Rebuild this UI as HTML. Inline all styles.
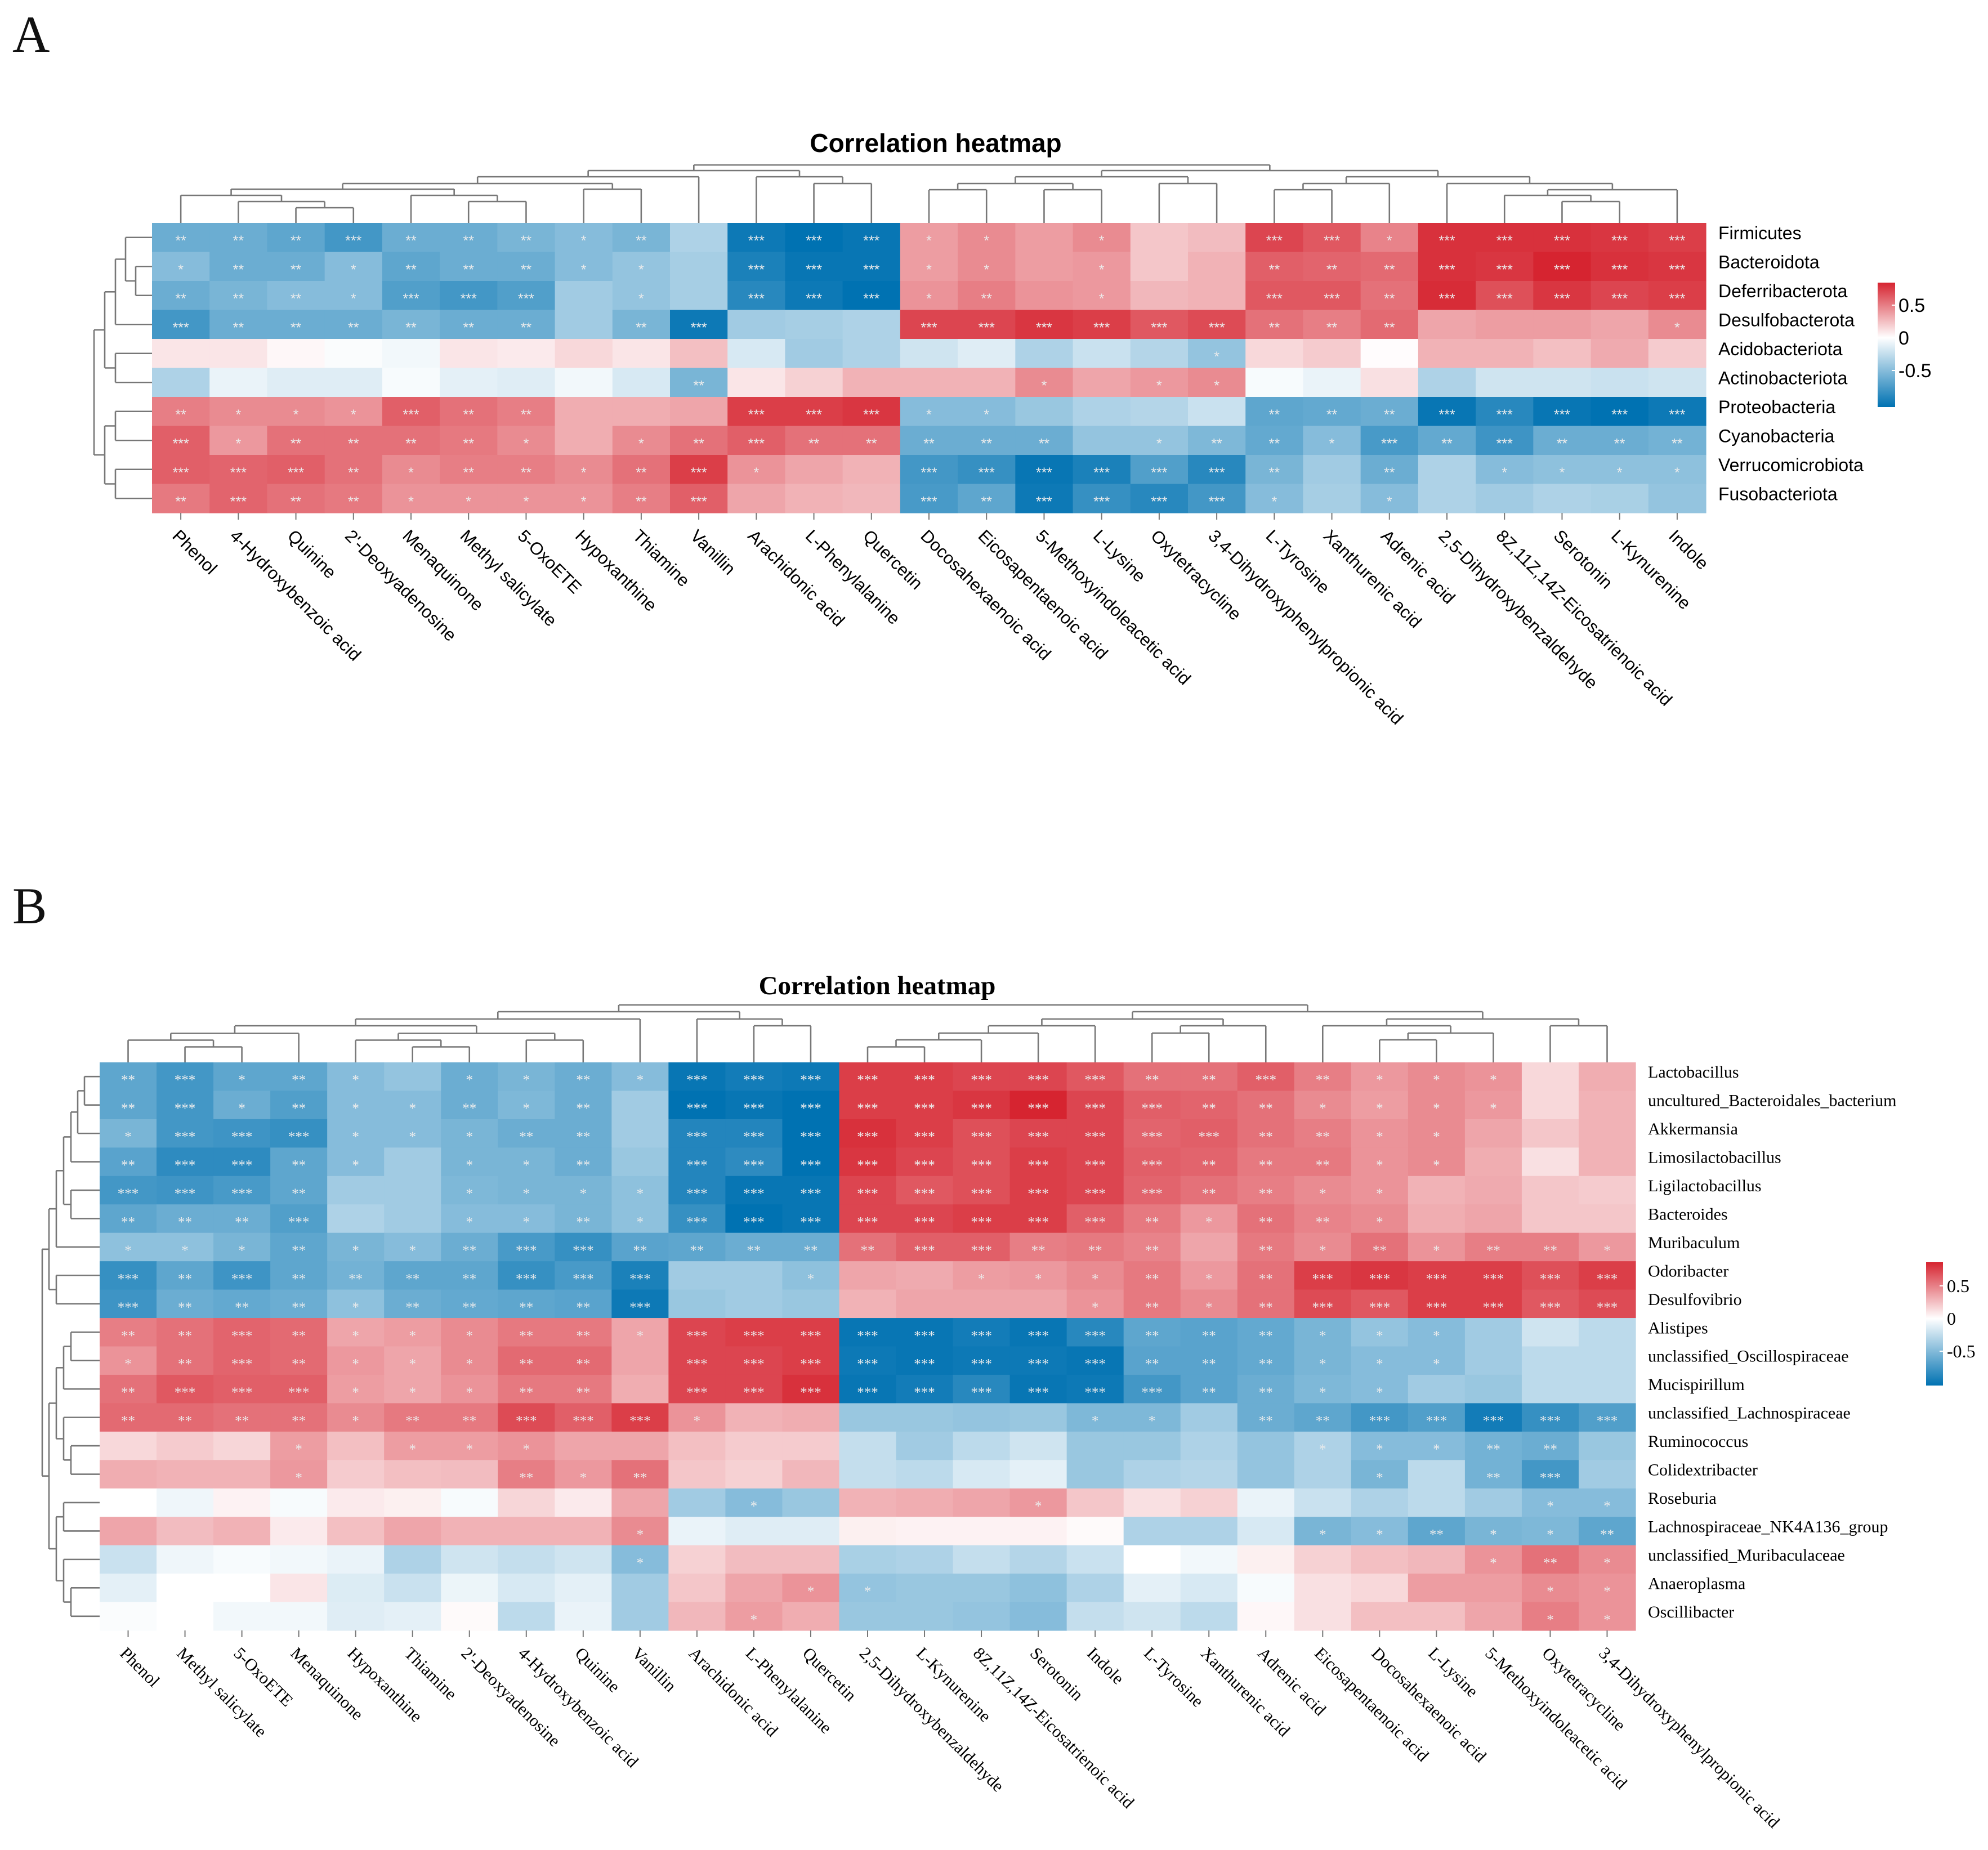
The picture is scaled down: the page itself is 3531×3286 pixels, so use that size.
<!DOCTYPE html>
<html><head><meta charset="utf-8"><style>html,body{margin:0;padding:0;background:#fff}svg{display:block}</style></head>
<body>
<svg id="chart" xmlns="http://www.w3.org/2000/svg" width="3531" height="3286" viewBox="0 0 3531 3286">
<defs>
<linearGradient id="gA" x1="0" y1="0" x2="0" y2="1"><stop offset="0" stop-color="rgb(214,36,48)"/><stop offset="0.443" stop-color="#fff"/><stop offset="1" stop-color="rgb(0,114,178)"/></linearGradient>
<linearGradient id="gB" x1="0" y1="0" x2="0" y2="1"><stop offset="0" stop-color="rgb(214,36,48)"/><stop offset="0.457" stop-color="#fff"/><stop offset="1" stop-color="rgb(0,114,178)"/></linearGradient>
</defs>
<rect width="3531" height="3286" fill="#fff"/>
<text x="22" y="92" font-family="Liberation Serif, serif" font-size="92" fill="#111">A</text>
<text x="22" y="1640" font-family="Liberation Serif, serif" font-size="92" fill="#111">B</text>
<text x="1662" y="270" text-anchor="middle" font-family="Liberation Sans, sans-serif" font-weight="bold" font-size="46" fill="#000">Correlation heatmap</text>
<text x="1558" y="1766" text-anchor="middle" font-family="Liberation Serif, serif" font-weight="bold" font-size="47" fill="#000">Correlation heatmap</text>
<g>
<rect x="3335" y="502" width="31" height="221" fill="url(#gA)"/>
<line x1="3360" x2="3366" y1="542" y2="542" stroke="#fff" stroke-width="2"/>
<line x1="3360" x2="3366" y1="600" y2="600" stroke="#fff" stroke-width="2"/>
<line x1="3360" x2="3366" y1="658" y2="658" stroke="#fff" stroke-width="2"/>
<text x="3372" y="554" font-family="Liberation Sans, sans-serif" font-size="34">0.5</text>
<text x="3372" y="612" font-family="Liberation Sans, sans-serif" font-size="34">0</text>
<text x="3372" y="670" font-family="Liberation Sans, sans-serif" font-size="34">-0.5</text>
</g>
<g>
<rect x="3421" y="2242" width="30" height="219" fill="url(#gB)"/>
<line x1="3445" x2="3451" y1="2284" y2="2284" stroke="#fff" stroke-width="2"/>
<line x1="3445" x2="3451" y1="2342" y2="2342" stroke="#fff" stroke-width="2"/>
<line x1="3445" x2="3451" y1="2400" y2="2400" stroke="#fff" stroke-width="2"/>
<text x="3458" y="2295" font-family="Liberation Serif, serif" font-size="32">0.5</text>
<text x="3458" y="2353" font-family="Liberation Serif, serif" font-size="32">0</text>
<text x="3458" y="2411" font-family="Liberation Serif, serif" font-size="32">-0.5</text>
</g>
</svg>
<script>
const A_cols = ["Phenol","4-Hydroxybenzoic acid","Quinine","2'-Deoxyadenosine","Menaquinone","Methyl salicylate","5-OxoETE","Hypoxanthine","Thiamine","Vanillin","Arachidonic acid","L-Phenylalanine","Quercetin","Docosahexaenoic acid","Eicosapentaenoic acid","5-Methoxyindoleacetic acid","L-Lysine","Oxytetracycline","3,4-Dihydroxyphenylpropionic acid","L-Tyrosine","Xanthurenic acid","Adrenic acid","2,5-Dihydroxybenzaldehyde","8Z,11Z,14Z-Eicosatrienoic acid","Serotonin","L-Kynurenine","Indole"];
const A_rows = ["Firmicutes","Bacteroidota","Deferribacterota","Desulfobacterota","Acidobacteriota","Actinobacteriota","Proteobacteria","Cyanobacteria","Verrucomicrobiota","Fusobacteriota"];
const A_vals = [
[-0.55,-0.55,-0.6,-0.7,-0.55,-0.55,-0.5,-0.45,-0.5,-0.3,-0.9,-0.95,-0.92,0.38,0.45,0.38,0.45,0.22,0.26,0.72,0.65,0.48,0.8,0.8,0.8,0.78,0.75],
[-0.45,-0.55,-0.55,-0.45,-0.6,-0.55,-0.55,-0.45,-0.4,-0.33,-0.85,-0.92,-0.92,0.38,0.45,0.38,0.4,0.22,0.3,0.62,0.6,0.58,0.8,0.78,0.85,0.8,0.78],
[-0.55,-0.5,-0.45,-0.45,-0.65,-0.7,-0.65,-0.35,-0.4,-0.33,-0.8,-0.9,-0.95,0.42,0.5,0.42,0.4,0.28,0.3,0.65,0.65,0.55,0.82,0.68,0.78,0.72,0.75],
[-0.7,-0.55,-0.55,-0.55,-0.5,-0.55,-0.55,-0.35,-0.5,-0.9,-0.35,-0.33,-0.3,0.72,0.72,0.78,0.75,0.65,0.7,0.55,0.5,0.58,0.35,0.38,0.38,0.35,0.45],
[0.1,0.1,0.03,-0.02,-0.05,0.1,0.08,0.15,0.1,0.25,-0.15,-0.35,-0.3,-0.18,-0.12,-0.3,-0.2,-0.28,-0.4,0.15,0.2,0.01,0.3,0.3,0.25,0.33,0.2],
[-0.3,-0.08,-0.12,-0.12,-0.03,-0.1,-0.12,-0.05,-0.15,-0.5,0.1,0.18,0.3,0.3,0.3,0.45,0.35,0.4,0.45,-0.03,-0.08,0.12,-0.3,-0.18,-0.18,-0.2,-0.18],
[0.5,0.45,0.45,0.42,0.62,0.55,0.5,0.32,0.32,0.35,0.75,0.75,0.78,-0.45,-0.45,-0.38,-0.3,-0.28,-0.2,-0.6,-0.58,-0.55,-0.92,-0.8,-0.92,-0.95,-0.9],
[0.62,0.4,0.55,0.55,0.55,0.52,0.45,0.32,0.45,0.55,0.62,0.55,0.55,-0.55,-0.55,-0.55,-0.4,-0.4,-0.48,-0.58,-0.45,-0.68,-0.58,-0.72,-0.55,-0.55,-0.52],
[0.62,0.6,0.62,0.55,0.45,0.5,0.5,0.45,0.55,0.75,0.42,0.35,0.3,-0.7,-0.75,-0.92,-0.85,-0.65,-0.8,-0.5,-0.35,-0.55,-0.3,-0.45,-0.42,-0.42,-0.42],
[0.52,0.6,0.55,0.52,0.42,0.42,0.42,0.42,0.5,0.62,0.35,0.3,0.28,-0.68,-0.6,-0.9,-0.75,-0.8,-0.7,-0.45,-0.33,-0.45,-0.3,-0.35,-0.3,-0.32,-0.4]];
const A_stars = ["222322212033311010033133333","122122211033311010022233333","222133301033312010033233333","322222202300033333322200001","000000000000000000100000000","000000000200000101100000000","211132200033311000022233333","312222101232222201221323222","333212212310033333320201111","232211112300032333310100000"];

const B_cols = ["Phenol","Methyl salicylate","5-OxoETE","Menaquinone","Hypoxanthine","Thiamine","2'-Deoxyadenosine","4-Hydroxybenzoic acid","Quinine","Vanillin","Arachidonic acid","L-Phenylalanine","Quercetin","2,5-Dihydroxybenzaldehyde","L-Kynurenine","8Z,11Z,14Z-Eicosatrienoic acid","Serotonin","Indole","L-Tyrosine","Xanthurenic acid","Adrenic acid","Eicosapentaenoic acid","Docosahexaenoic acid","L-Lysine","5-Methoxyindoleacetic acid","Oxytetracycline","3,4-Dihydroxyphenylpropionic acid"];
const B_rows = ["Lactobacillus","uncultured_Bacteroidales_bacterium","Akkermansia","Limosilactobacillus","Ligilactobacillus","Bacteroides","Muribaculum","Odoribacter","Desulfovibrio","Alistipes","unclassified_Oscillospiraceae","Mucispirillum","unclassified_Lachnospiraceae","Ruminococcus","Colidextribacter","Roseburia","Lachnospiraceae_NK4A136_group","unclassified_Muribaculaceae","Anaeroplasma","Oscillibacter"];
const B_vals = [
[-0.6,-0.7,-0.6,-0.6,-0.45,-0.4,-0.55,-0.5,-0.55,-0.45,-0.92,-0.88,-0.9,0.75,0.75,0.72,0.72,0.65,0.55,0.55,0.62,0.5,0.4,0.45,0.42,0.15,0.32],
[-0.6,-0.7,-0.55,-0.65,-0.45,-0.45,-0.55,-0.48,-0.55,-0.35,-0.95,-0.92,-0.95,0.75,0.75,0.78,0.85,0.72,0.62,0.6,0.55,0.45,0.38,0.45,0.4,0.15,0.3],
[-0.5,-0.7,-0.72,-0.75,-0.45,-0.45,-0.5,-0.55,-0.55,-0.35,-0.82,-0.82,-0.95,0.8,0.75,0.68,0.72,0.72,0.6,0.62,0.55,0.5,0.42,0.45,0.35,0.22,0.3],
[-0.62,-0.78,-0.78,-0.6,-0.45,-0.35,-0.5,-0.5,-0.55,-0.38,-0.82,-0.78,-0.95,0.78,0.72,0.68,0.75,0.72,0.62,0.6,0.52,0.52,0.42,0.45,0.32,0.12,0.3],
[-0.7,-0.72,-0.68,-0.6,-0.35,-0.35,-0.48,-0.5,-0.5,-0.42,-0.82,-0.92,-0.92,0.72,0.65,0.68,0.75,0.72,0.6,0.55,0.5,0.45,0.42,0.3,0.33,0.22,0.2],
[-0.6,-0.55,-0.55,-0.65,-0.3,-0.35,-0.45,-0.45,-0.5,-0.42,-0.75,-0.95,-0.92,0.72,0.72,0.75,0.75,0.62,0.52,0.4,0.55,0.48,0.45,0.32,0.35,0.22,0.22],
[-0.42,-0.42,-0.5,-0.6,-0.5,-0.45,-0.55,-0.68,-0.75,-0.62,-0.6,-0.55,-0.55,0.55,0.62,0.62,0.5,0.52,0.48,0.35,0.52,0.45,0.55,0.42,0.5,0.5,0.4],
[-0.75,-0.6,-0.72,-0.6,-0.52,-0.6,-0.6,-0.75,-0.68,-0.85,-0.35,-0.35,-0.42,0.35,0.33,0.38,0.4,0.45,0.52,0.4,0.55,0.75,0.78,0.75,0.75,0.68,0.75],
[-0.72,-0.55,-0.58,-0.55,-0.42,-0.55,-0.58,-0.6,-0.62,-0.9,-0.38,-0.35,-0.38,0.3,0.35,0.35,0.35,0.42,0.52,0.45,0.55,0.7,0.65,0.75,0.75,0.65,0.7],
[0.5,0.55,0.6,0.58,0.35,0.38,0.45,0.52,0.52,0.35,0.72,0.75,0.75,-0.92,-0.92,-0.88,-0.92,-0.8,-0.6,-0.62,-0.58,-0.5,-0.4,-0.45,-0.35,-0.18,-0.25],
[0.42,0.55,0.6,0.58,0.4,0.35,0.45,0.58,0.58,0.35,0.72,0.72,0.75,-0.9,-0.92,-0.9,-0.9,-0.92,-0.62,-0.62,-0.58,-0.5,-0.45,-0.45,-0.35,-0.25,-0.25],
[0.55,0.65,0.62,0.62,0.38,0.35,0.42,0.52,0.52,0.32,0.72,0.72,0.8,-0.92,-0.88,-0.8,-0.92,-0.9,-0.7,-0.62,-0.55,-0.48,-0.45,-0.35,-0.38,-0.25,-0.25],
[0.58,0.58,0.55,0.55,0.45,0.52,0.52,0.7,0.62,0.75,0.42,0.3,0.32,-0.38,-0.38,-0.4,-0.38,-0.48,-0.48,-0.35,-0.55,-0.6,-0.7,-0.65,-0.88,-0.75,-0.65],
[0.15,0.2,0.16,0.38,0.25,0.38,0.38,0.42,0.35,0.35,0.25,0.2,0.2,-0.22,-0.35,-0.25,-0.18,-0.38,-0.38,-0.3,-0.4,-0.3,-0.45,-0.45,-0.52,-0.55,-0.38],
[0.32,0.3,0.3,0.4,0.2,0.25,0.26,0.5,0.4,0.55,0.22,0.18,0.28,-0.22,-0.25,-0.15,-0.1,-0.38,-0.3,-0.28,-0.4,-0.3,-0.5,-0.25,-0.52,-0.7,-0.35],
[0,-0.06,0.05,-0.03,0.08,0.06,-0.03,0.16,0.08,0.35,-0.35,-0.45,-0.38,0.3,0.32,0.35,0.4,0.22,0.12,0.18,-0.08,-0.2,-0.3,-0.25,-0.35,-0.45,-0.45],
[0.35,0.26,0.3,0.08,0.25,0.35,0.3,0.3,0.3,0.45,-0.08,-0.12,-0.12,0.06,0.05,0.05,0.05,0.02,-0.3,-0.3,-0.15,-0.5,-0.45,-0.6,-0.5,-0.48,-0.6],
[-0.2,-0.06,-0.03,-0.05,-0.08,-0.3,-0.18,-0.22,-0.18,-0.45,0.18,0.26,0.26,-0.32,-0.3,-0.22,-0.28,-0.2,0,-0.05,0.06,0.18,0.25,0.28,0.42,0.55,0.45],
[-0.1,0,0,0.1,-0.13,-0.2,-0.07,-0.15,-0.1,-0.35,0.22,0.35,0.42,-0.4,-0.38,-0.38,-0.42,-0.3,-0.1,-0.15,-0.03,0.12,0.15,0.38,0.38,0.45,0.42],
[-0.02,0,-0.05,-0.05,-0.12,-0.1,0.02,-0.25,-0.08,-0.35,0.28,0.38,0.32,-0.38,-0.38,-0.4,-0.45,-0.22,-0.18,-0.25,0.03,0.12,0.25,0.25,0.35,0.5,0.42]];
const B_stars = ["231210112133333333223211100","231211212033333333322111100","133311122033333333332211000","233210112033333333322211000","333200111133333333322110000","222300112133333333212210000","111211233222223322202121221","323222233300100111212333333","322212222300000001212333333","223211122133333333222111000","123211122033333333222111000","233311122033333333322110000","222212233310000001102233333","000101110000000000000111220","000100021200000000000010230","000000000001000010000000011","000000000100000000000112112","000000000100000000000000121","000000000000110000000000011","000000000001000000000000011"];

const A_colTree = [[[[[[0,[1,[2,3,27],38],49],[4,[5,6,38],49],60],[7,8,60],70],9,82],[10,[11,12,70],82],93],[[[[13,14,59],[15,16,59],70],[17,18,70],82],[[[19,20,59],21,70],[22,[[23,[24,25,38],49],26,59],70],82],93],103];
const A_rowTree = [[[[0,[1,2,29],47],3,65],[4,5,65],84],[[6,7,65],[8,9,65],84],103];
const B_colTree = [[[[[[0,[1,2,27.5],39.5],3,51.5],[[4,[5,6,27.5],39.5],[7,8,39.5],51.5],65],9,77],[10,[11,12,65],77],90],[[[[[[13,14,27.5],15,40],16,52],17,65],[[18,19,52],20,65],77],[[21,[[22,23,40],24,52],65],[25,26,65],77],90],102];
const B_rowTree = [[[[[[[0,1,27],2,39],3,51],[4,5,51],64],6,77],[7,8,77],90],[[[[9,10,51],11,64],[12,[13,14,51],64],77],[[15,16,64],[17,[18,19,51],64],77],90],102];

const NS = "http://www.w3.org/2000/svg";
const svg = document.getElementById('chart');
function mk(tag, attrs, parent){const e=document.createElementNS(NS,tag);for(const k in attrs)e.setAttribute(k,attrs[k]);(parent||svg).appendChild(e);return e;}
function color(v){
  const w=[255,255,255];
  let t, c;
  if(v>=0){t=Math.min(1,v/0.85);c=[214,36,48];}else{t=Math.min(1,-v/0.95);c=[0,114,178];}
  return 'rgb('+w.map((x,i)=>Math.round(x+(c[i]-x)*t)).join(',')+')';
}
function panel(cfg){
  const g=mk('g',{});
  
  
  const nr=cfg.rows.length, nc=cfg.cols.length;
  const cw=(cfg.right-cfg.left)/nc, ch=(cfg.bottom-cfg.top)/nr;
  const xc=i=>cfg.left+cw*(i+0.5), yc=j=>cfg.top+ch*(j+0.5);
  for(let r=0;r<nr;r++){
    for(let c=0;c<nc;c++){
      const rect=mk('rect',{x:cfg.left+cw*c,y:cfg.top+ch*r,width:cw+0.6,height:ch+0.6,fill:color(cfg.vals[r][c])},g);
      
      
      const s=+cfg.stars[r][c];
      if(s>0){
        const t=mk('text',{x:xc(c),y:yc(r)+cfg.starDy,'text-anchor':'middle','font-family':cfg.font,'font-size':cfg.starSize,fill:'#ececec'},g);
        t.textContent='*'.repeat(s);
        
        
      }
    }
  }
  for(let r=0;r<nr;r++){
    const t=mk('text',{x:cfg.right+cfg.rowGap,y:yc(r)+cfg.rowDy,'font-family':cfg.font,'font-size':cfg.rowSize,fill:'#000'},g);
    t.textContent=cfg.rows[r];
    
    
  }
  for(let c=0;c<nc;c++){
    const tk=mk('line',{x1:xc(c),x2:xc(c),y1:cfg.bottom,y2:cfg.bottom+12,stroke:'#777','stroke-width':2},g);
    
    
    const lx=xc(c)+2, ly=cfg.bottom+20;
    const t=mk('text',{x:lx,y:ly,'dominant-baseline':'hanging','font-family':cfg.font,'font-size':cfg.colSize,fill:'#000',transform:'rotate(45 '+(lx-10)+' '+ly+')'},g);
    t.textContent=cfg.cols[c];
    
    
  }
  const dg=mk('g',{stroke:'#777','stroke-width':2.6,fill:'none'});
  
  
  function walk(n,pos,base,dir){
    if(typeof n==='number') return {p:pos(n),h:0};
    const a=walk(n[0],pos,base,dir), b=walk(n[1],pos,base,dir), h=n[2];
    const L=(p1,q1,p2,q2)=>{const ln=dir==='top'?mk('line',{x1:p1,y1:base-q1,x2:p2,y2:base-q2},dg):mk('line',{x1:base-q1,y1:p1,x2:base-q2,y2:p2},dg);};
    L(a.p,a.h,a.p,h); L(b.p,b.h,b.p,h); L(a.p,h,b.p,h);
    return {p:(a.p+b.p)/2,h:h};
  }
  walk(cfg.colTree,xc,cfg.top,'top');
  walk(cfg.rowTree,yc,cfg.left,'left');
}
panel({id:'a',left:270,right:3030,top:396,bottom:911,rows:A_rows,cols:A_cols,vals:A_vals,stars:A_stars,colTree:A_colTree,rowTree:A_rowTree,font:'Liberation Sans, sans-serif',rowSize:32,colSize:31,rowGap:22,rowDy:3,starSize:25,starDy:14});
panel({id:'b',left:177,right:2905,top:1887,bottom:2896,rows:B_rows,cols:B_cols,vals:B_vals,stars:B_stars,colTree:B_colTree,rowTree:B_rowTree,font:'Liberation Serif, serif',rowSize:30,colSize:30.5,rowGap:22,rowDy:2,starSize:25,starDy:14});
</script>
</body></html>
